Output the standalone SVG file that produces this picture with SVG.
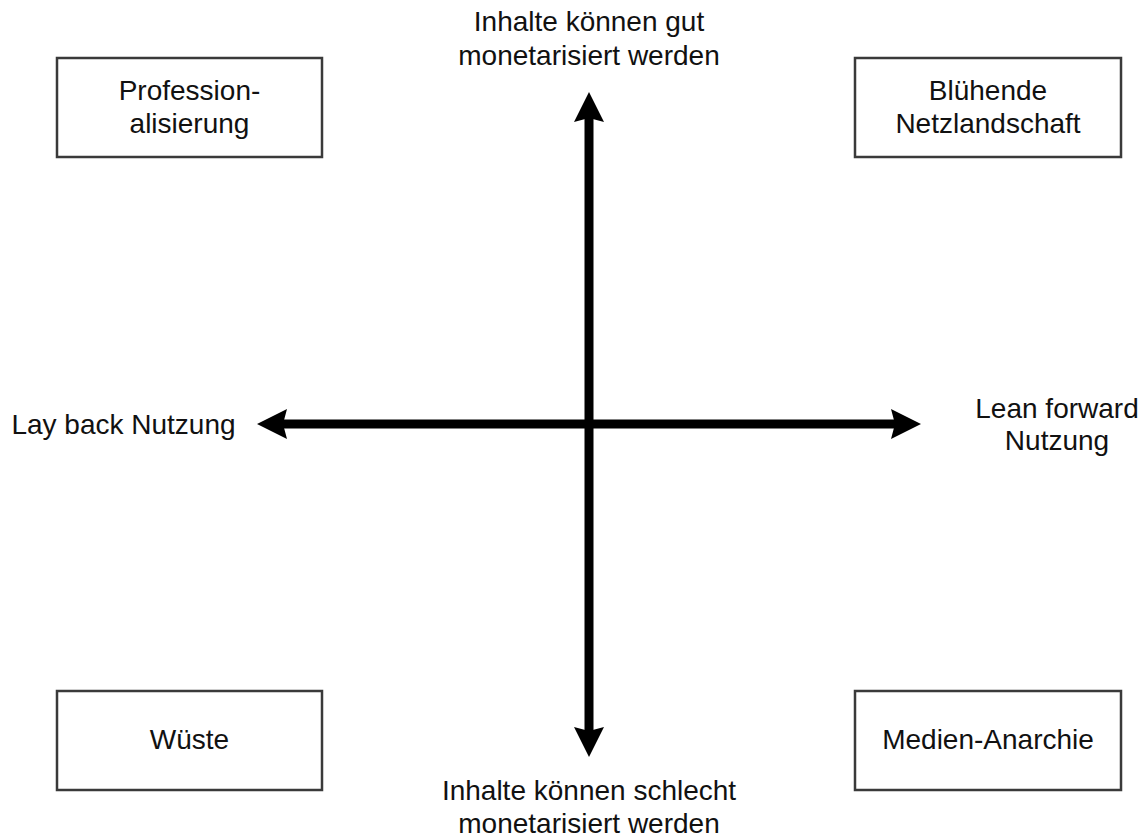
<svg xmlns="http://www.w3.org/2000/svg" width="1147" height="837" viewBox="0 0 1147 837">
<style>
.box{fill:#fff;stroke:#3a3a3a;stroke-width:2.5}
.t{font-family:"Liberation Sans",Arial,sans-serif;font-size:28px;fill:#111;text-anchor:middle}
.axis{stroke:#000;stroke-width:9;fill:none}
</style>
<defs>
<marker id="ah" markerUnits="userSpaceOnUse" markerWidth="30" markerHeight="30" refX="4" refY="15" orient="auto-start-reverse" viewBox="0 0 30 30">
<path d="M0,0 L30,15 L0,30 L4,15 Z" fill="#000"/>
</marker>
</defs>
<rect width="1147" height="837" fill="#fff"/>
<g id="connectors">
<path class="axis" d="M589,118 L589,731" marker-start="url(#ah)" marker-end="url(#ah)"/>
<path class="axis" d="M283,424 L895,424" marker-start="url(#ah)" marker-end="url(#ah)"/>
</g>
<g id="label-top">
<text class="t" x="589" y="31">Inhalte können gut</text>
<text class="t" x="589" y="65">monetarisiert werden</text>
</g>
<g id="label-bottom">
<text class="t" x="589" y="800">Inhalte können schlecht</text>
<text class="t" x="589" y="833">monetarisiert werden</text>
</g>
<g id="label-left">
<text class="t" x="123.5" y="434">Lay back Nutzung</text>
</g>
<g id="label-right">
<text class="t" x="1057" y="418">Lean forward</text>
<text class="t" x="1057" y="450">Nutzung</text>
</g>
<g id="node-professionalisierung">
<rect class="box" x="57" y="58" width="265" height="99"/>
<text class="t" x="189.5" y="100">Profession-</text>
<text class="t" x="189.5" y="133">alisierung</text>
</g>
<g id="node-bluehende">
<rect class="box" x="855" y="58" width="266" height="99"/>
<text class="t" x="988" y="100">Blühende</text>
<text class="t" x="988" y="133">Netzlandschaft</text>
</g>
<g id="node-wueste">
<rect class="box" x="57" y="691" width="265" height="99"/>
<text class="t" x="189.5" y="749">Wüste</text>
</g>
<g id="node-medien">
<rect class="box" x="855" y="691" width="266" height="99"/>
<text class="t" x="988" y="749">Medien-Anarchie</text>
</g>
</svg>
